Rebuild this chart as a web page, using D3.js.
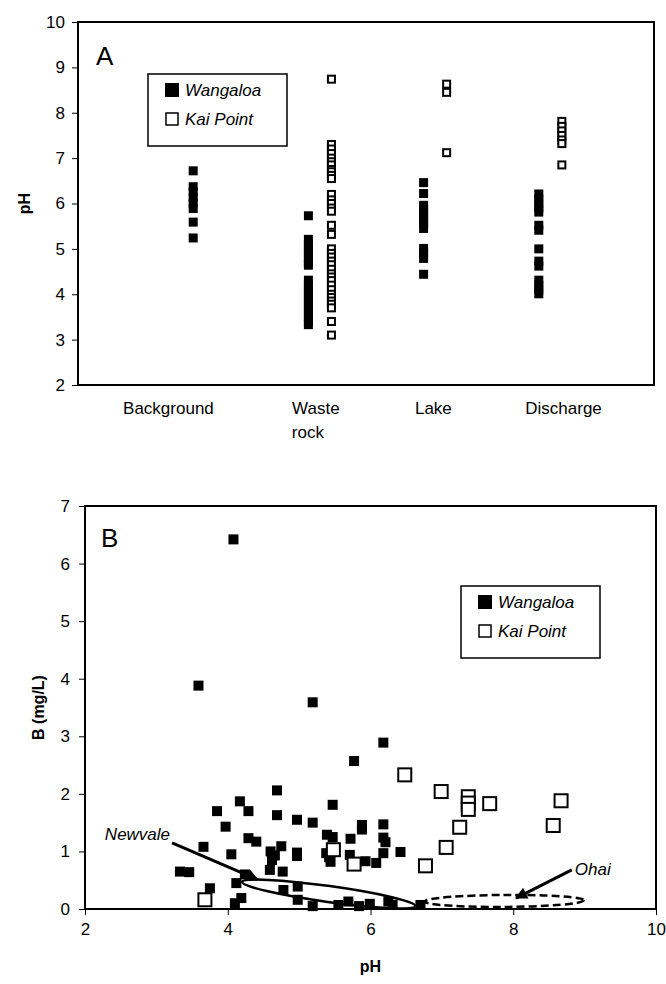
<!DOCTYPE html>
<html>
<head>
<meta charset="utf-8" />
<title>pH and B at Wangaloa and Kai Point</title>
<style>
  body { margin: 0; background: #fff; }
  text { font-family: "Liberation Sans", Arial, sans-serif; fill: #000; }
  .tick line { stroke: #000; stroke-width: 1px; }
  .tick text { font-size: 17px; }
  .frame { fill: none; stroke: #000; stroke-width: 2px; }
  .wang { fill: #000; }
  .kai { fill: #fff; stroke: #000; stroke-width: 2px; }
  .legend-box { fill: #fff; stroke: #000; stroke-width: 1.5px; }
  .legend text { font-size: 17px; font-style: italic; }
  .title { font-size: 16px; font-weight: bold; }
  .panel { font-size: 26px; }
</style>
</head>
<body>
<svg id="chart" width="666" height="984"></svg>
<script src="https://d3js.org/d3.v7.min.js"></script>
<script>
// ---- data, panel A (pH by site type) ----
var categories = ["Background", "Waste rock", "Lake", "Discharge"];
var catLabelPos = [0.785, 2.065, 3.085, 4.215];
var seriesNames = ["Wangaloa", "Kai Point"];

var wangaloaPH = [
    [6.72, 6.37, 6.25, 6.13, 6.01, 5.89, 5.59, 5.24],
    [5.73, 5.21, 5.1, 5.0, 4.9, 4.8, 4.7, 4.64, 4.31, 4.2, 4.1, 4.0, 3.9, 3.8, 3.7, 3.6, 3.5, 3.4, 3.33],
    [6.46, 6.22, 5.96, 5.85, 5.75, 5.65, 5.55, 5.45, 5.01, 4.9, 4.79, 4.44],
    [6.21, 6.1, 6.0, 5.9, 5.81, 5.52, 5.41, 5.0, 4.73, 4.62, 4.31, 4.2, 4.1, 4.01]
];
var kaiPH = [
    [],
    [8.74, 7.3, 7.2, 7.1, 7.0, 6.92, 6.85, 6.75, 6.7, 6.62, 6.55, 6.2, 6.08, 6.0, 5.9, 5.83, 5.52, 5.32,
     5.0, 4.9, 4.82, 4.73, 4.65, 4.55, 4.45, 4.38, 4.3, 4.2, 4.1, 4.0, 3.93, 3.85, 3.78, 3.7, 3.4, 3.1],
    [8.63, 8.45, 7.12],
    [7.81, 7.7, 7.6, 7.5, 7.4, 7.32, 6.85]
];
var yTicksA = [2, 3, 4, 5, 6, 7, 8, 9, 10];

// ---- data, panel B (B against pH), [pH, B mg/L] ----
var wangaloaB = [
    [4.08, 6.42], [3.59, 3.88], [5.19, 3.59], [6.18, 2.89], [5.77, 2.57], [4.69, 2.06],
    [4.17, 1.87], [3.85, 1.70], [4.29, 1.70], [5.47, 1.81], [4.69, 1.63], [4.97, 1.55],
    [5.19, 1.50], [5.88, 1.46], [5.88, 1.38], [6.18, 1.47], [3.97, 1.43], [5.39, 1.29],
    [5.47, 1.25], [5.72, 1.22], [6.18, 1.24], [6.21, 1.16], [4.29, 1.23], [4.40, 1.17],
    [3.66, 1.08], [4.05, 0.95], [4.60, 1.00], [4.66, 0.93], [4.62, 0.85], [4.75, 1.09],
    [4.97, 0.98], [4.97, 0.92], [5.38, 0.97], [5.42, 0.90], [5.44, 0.82], [5.71, 0.94],
    [6.18, 0.97], [6.42, 0.99], [5.93, 0.83], [6.08, 0.80], [4.59, 0.68], [4.77, 0.65],
    [3.33, 0.65], [3.46, 0.64], [3.75, 0.36], [4.12, 0.45], [4.24, 0.60], [4.19, 0.19],
    [4.10, 0.10], [4.78, 0.33], [4.98, 0.39], [4.98, 0.16], [5.19, 0.05], [5.55, 0.07],
    [5.69, 0.13], [5.84, 0.05], [5.99, 0.09], [6.25, 0.13], [6.31, 0.07], [6.70, 0.07]
];
var kaiB = [
    [6.48, 2.33], [6.99, 2.04], [7.37, 1.95], [7.37, 1.84], [7.37, 1.73], [7.67, 1.83],
    [8.67, 1.88], [7.25, 1.42], [8.56, 1.45], [7.06, 1.07], [6.77, 0.75], [5.48, 1.03],
    [5.77, 0.78], [3.68, 0.16]
];
var xTicksB = [2, 4, 6, 8, 10];
var yTicksB = [0, 1, 2, 3, 4, 5, 6, 7];

// annotation ellipses (end points in pH / B units) and arrows
var newvaleEnds = [[4.20, 0.47], [6.63, 0.05]];
var ohaiEnds = [[6.76, 0.13], [8.99, 0.15]];
var newvaleArrow = [[3.22, 1.15], [4.42, 0.51]];
var ohaiArrow = [[8.82, 0.68], [8.04, 0.19]];

var svg = d3.select("#chart");

svg.append("defs").append("marker")
    .attr("id", "head")
    .attr("markerUnits", "userSpaceOnUse")
    .attr("viewBox", "0 0 10 10")
    .attr("refX", 9)
    .attr("refY", 5)
    .attr("markerWidth", 16)
    .attr("markerHeight", 12)
    .attr("orient", "auto")
    .append("path")
    .attr("d", "M0,0 L10,5 L0,10 z")
    .attr("fill", "#000");

// panel A
var xA = d3.scaleLinear().domain([0, 5]).range([78, 654]);
var yA = d3.scaleLinear().domain([2, 10]).range([385, 22]);
var gA = svg.append("g");

gA.append("g")
    .attr("transform", "translate(" + xA.range()[0] + ",0)")
    .call(d3.axisLeft(yA).tickValues(yTicksA).tickSize(6).tickPadding(7).tickFormat(d3.format("d")))
    .call(function(g) { g.select(".domain").remove(); });

var sizeA = 9;
categories.forEach(function(c, i) {
    gA.selectAll(".wa" + i)
        .data(wangaloaPH[i])
        .enter().append("rect")
        .attr("class", "wang")
        .attr("x", xA(i + 1) - sizeA / 2)
        .attr("y", function(d) { return yA(d) - sizeA / 2; })
        .attr("width", sizeA)
        .attr("height", sizeA);
    gA.selectAll(".ka" + i)
        .data(kaiPH[i])
        .enter().append("rect")
        .attr("class", "kai")
        .attr("x", xA(i + 1.2) - (sizeA - 2) / 2)
        .attr("y", function(d) { return yA(d) - (sizeA - 2) / 2; })
        .attr("width", sizeA - 2)
        .attr("height", sizeA - 2);
});

gA.append("rect").attr("class", "frame")
    .attr("x", xA.range()[0]).attr("y", yA.range()[1])
    .attr("width", xA.range()[1] - xA.range()[0])
    .attr("height", yA.range()[0] - yA.range()[1]);

// category labels, two lines for "Waste rock"
categories.forEach(function(c, i) {
    var t = gA.append("text")
        .attr("x", xA(catLabelPos[i]))
        .attr("y", 414)
        .attr("text-anchor", "middle")
        .attr("font-size", "17px");
    var words = i == 1 ? c.split(" ") : [c];
    words.forEach(function(w, j) {
        t.append("tspan").attr("x", xA(catLabelPos[i]) - (j ? 8 : 0)).attr("dy", j ? 24 : 0).text(w);
    });
});

gA.append("text").attr("class", "title")
    .attr("transform", "translate(30," + yA(6) + ") rotate(-90)")
    .attr("text-anchor", "middle")
    .text("pH");

gA.append("text").attr("class", "panel").attr("x", 96).attr("y", 65).text("A");

// legend box with the two series
function legend(g, x, y) {
    var lg = g.append("g").attr("class", "legend").attr("transform", "translate(" + x + "," + y + ")");
    lg.append("rect").attr("class", "legend-box").attr("width", 139).attr("height", 72);
    seriesNames.forEach(function(s, i) {
        var cy = 16 + i * 29;
        lg.append("rect")
            .attr("class", i == 0 ? "wang" : "kai")
            .attr("x", i == 0 ? 17 : 18)
            .attr("y", cy - (i == 0 ? 7 : 6))
            .attr("width", i == 0 ? 14 : 12)
            .attr("height", i == 0 ? 14 : 12)
            .style("stroke-width", i == 0 ? null : "1.5px");
        lg.append("text").attr("x", 37).attr("y", cy + 6).text(s);
    });
}
legend(gA, 148, 74);

// panel B
var xB = d3.scaleLinear().domain([2, 10]).range([85, 656]);
var yB = d3.scaleLinear().domain([0, 7]).range([909, 506]);
var gB = svg.append("g");

gB.append("g")
    .attr("transform", "translate(" + xB.range()[0] + ",0)")
    .call(d3.axisLeft(yB).tickValues(yTicksB).tickSize(6).tickPadding(9).tickFormat(d3.format("d")))
    .call(function(g) { g.select(".domain").remove(); });

gB.append("g")
    .attr("transform", "translate(0," + yB.range()[0] + ")")
    .call(d3.axisBottom(xB).tickValues(xTicksB).tickSize(6).tickPadding(8).tickFormat(d3.format("d")))
    .call(function(g) { g.select(".domain").remove(); });

var sizeB = 10;
gB.selectAll(".wb")
    .data(wangaloaB)
    .enter().append("rect")
    .attr("class", "wang")
    .attr("x", function(d) { return xB(d[0]) - sizeB / 2; })
    .attr("y", function(d) { return yB(d[1]) - sizeB / 2; })
    .attr("width", sizeB)
    .attr("height", sizeB);

var sizeK = 13;
gB.selectAll(".kb")
    .data(kaiB)
    .enter().append("rect")
    .attr("class", "kai")
    .attr("x", function(d) { return xB(d[0]) - sizeK / 2; })
    .attr("y", function(d) { return yB(d[1]) - sizeK / 2; })
    .attr("width", sizeK)
    .attr("height", sizeK);

// ellipses around the Newvale and Ohai fields
function fieldEllipse(ends, ry, dashed) {
    var p0 = [xB(ends[0][0]), yB(ends[0][1])],
        p1 = [xB(ends[1][0]), yB(ends[1][1])];
    var cx = (p0[0] + p1[0]) / 2, cy = (p0[1] + p1[1]) / 2;
    var rx = Math.hypot(p1[0] - p0[0], p1[1] - p0[1]) / 2;
    var ang = Math.atan2(p1[1] - p0[1], p1[0] - p0[0]) * 180 / Math.PI;
    gB.append("ellipse")
        .attr("transform", "translate(" + cx + "," + cy + ") rotate(" + ang + ")")
        .attr("rx", rx)
        .attr("ry", ry)
        .attr("fill", "none")
        .attr("stroke", "#000")
        .attr("stroke-width", 2.5)
        .attr("stroke-dasharray", dashed ? "8,4" : null);
}
fieldEllipse(newvaleEnds, 8, false);
fieldEllipse(ohaiEnds, 6, true);

[newvaleArrow, ohaiArrow].forEach(function(a) {
    gB.append("line")
        .attr("x1", xB(a[0][0])).attr("y1", yB(a[0][1]))
        .attr("x2", xB(a[1][0])).attr("y2", yB(a[1][1]))
        .attr("stroke", "#000")
        .attr("stroke-width", 3)
        .attr("marker-end", "url(#head)");
});

gB.append("text")
    .attr("x", xB(newvaleArrow[0][0]) - 2).attr("y", yB(newvaleArrow[0][1]) - 3)
    .attr("text-anchor", "end")
    .attr("font-size", "17px").attr("font-style", "italic")
    .text("Newvale");
gB.append("text")
    .attr("x", xB(ohaiArrow[0][0]) + 3).attr("y", yB(ohaiArrow[0][1]) + 5)
    .attr("font-size", "17px").attr("font-style", "italic")
    .text("Ohai");

gB.append("rect").attr("class", "frame")
    .attr("x", xB.range()[0]).attr("y", yB.range()[1])
    .attr("width", xB.range()[1] - xB.range()[0])
    .attr("height", yB.range()[0] - yB.range()[1]);

gB.append("text").attr("class", "title")
    .attr("transform", "translate(44," + yB(3.5) + ") rotate(-90)")
    .attr("text-anchor", "middle")
    .text("B (mg/L)");

gB.append("text").attr("class", "title")
    .attr("x", xB(6)).attr("y", 972)
    .attr("text-anchor", "middle")
    .text("pH");

gB.append("text").attr("class", "panel").attr("x", 101).attr("y", 547).text("B");

legend(gB, 461, 586);
</script>
</body>
</html>
